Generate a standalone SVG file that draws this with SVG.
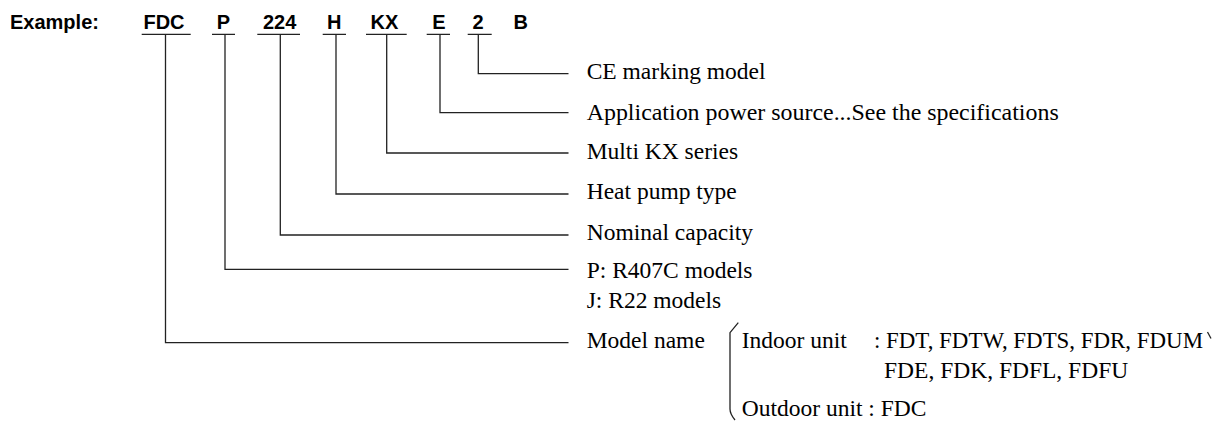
<svg xmlns="http://www.w3.org/2000/svg" width="1213" height="421" viewBox="0 0 1213 421">
<style>
.hd{font-family:"Liberation Sans",Arial,sans-serif;font-weight:bold;font-size:20px;fill:#000}
.lb{font-family:"Liberation Serif","Times New Roman",serif;font-size:23.5px;fill:#000}
.ln{fill:none;stroke:#222;stroke-width:1.3}
</style>
<rect width="1213" height="421" fill="#fff"/>
<g id="header">
<text class="hd" x="10" y="29">Example:</text>
<text class="hd" x="164" y="29" text-anchor="middle">FDC</text>
<text class="hd" x="223.5" y="29" text-anchor="middle">P</text>
<text class="hd" x="279.7" y="29" text-anchor="middle">224</text>
<text class="hd" x="334.2" y="29" text-anchor="middle">H</text>
<text class="hd" x="384.5" y="29" text-anchor="middle">KX</text>
<text class="hd" x="439" y="29" text-anchor="middle">E</text>
<text class="hd" x="478" y="29" text-anchor="middle">2</text>
<text class="hd" x="520.8" y="29" text-anchor="middle">B</text>
</g>
<g id="underlines" class="ln">
<path d="M141.7 34.3H190.7M212 34.3H235M257.3 34.3H300M322.7 34.3H346M366 34.3H406.7M426.7 34.3H450M467.7 34.3H491.7"/>
</g>
<g id="connectors" class="ln">
<path d="M478.3 34.3V73.7H568.5"/>
<path d="M440 34.3V112.7H568.5"/>
<path d="M386.7 34.3V153H568.5"/>
<path d="M336 34.3V194H568.5"/>
<path d="M280.3 34.3V235H568.5"/>
<path d="M225 34.3V269.3H568.5"/>
<path d="M165.5 34.3V342.7H568.5"/>
</g>
<g id="n-ce"><text class="lb" x="586.7" y="79.3">CE marking model</text></g>
<g id="n-power"><text class="lb" x="586.7" y="120" textLength="472" lengthAdjust="spacingAndGlyphs">Application power source...See the specifications</text></g>
<g id="n-kx"><text class="lb" x="586.7" y="159.3">Multi KX series</text></g>
<g id="n-hp"><text class="lb" x="586.7" y="199.3">Heat pump type</text></g>
<g id="n-cap"><text class="lb" x="586.7" y="240">Nominal capacity</text></g>
<g id="n-ref"><text class="lb" x="586.7" y="278.3">P: R407C models</text><text class="lb" x="586.7" y="308.3">J: R22 models</text></g>
<g id="n-model">
<text class="lb" x="586.7" y="348.3">Model name</text>
<path class="ln" d="M738.3 322.7L730 332.7V409Q730 414 735 420"/>
<text class="lb" x="741.7" y="348.3">Indoor unit</text>
<text class="lb" x="874" y="348.3" textLength="329" lengthAdjust="spacingAndGlyphs">: FDT, FDTW, FDTS, FDR, FDUM</text>
<text class="lb" x="884" y="378.3">FDE, FDK, FDFL, FDFU</text>
<text class="lb" x="741.7" y="416">Outdoor unit : FDC</text>
<path class="ln" d="M1207.5 332L1211 338.5"/>
</g>
</svg>
